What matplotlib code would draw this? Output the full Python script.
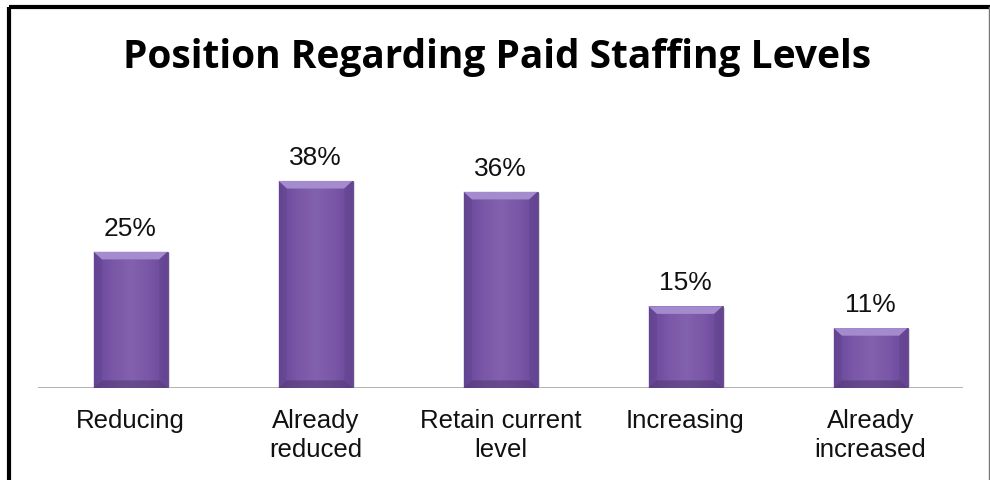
import matplotlib
matplotlib.use("Agg")
import matplotlib.pyplot as plt
import numpy as np
from matplotlib.patches import Polygon
from matplotlib.colors import LinearSegmentedColormap

categories = ["Reducing", "Already\nreduced", "Retain current\nlevel", "Increasing", "Already\nincreased"]
values = [25, 38, 36, 15, 11]
value_labels = ["25%", "38%", "36%", "15%", "11%"]

W, H = 990, 481
fig = plt.figure(figsize=(W / 100, H / 100), dpi=100)

# outer frame: heavy black top/left, thin grey right
frame = fig.add_axes([0, 0, 1, 1])
frame.set_xlim(0, W)
frame.set_ylim(H, 0)
frame.axis("off")
frame.plot([9, 990], [8, 8], color="black", lw=3, solid_capstyle="butt")
frame.plot([9, 9], [8, H], color="black", lw=3, solid_capstyle="butt")
frame.plot([988.5, 988.5], [8, H], color="#777777", lw=1)

fig.text(497 / W, 1 - 68 / H, "Position Regarding Paid Staffing Levels",
         ha="center", va="baseline", fontsize=28, fontweight="bold",
         family=["Open Sans", "DejaVu Sans"])

# plot area: baseline at y=389, 185 px per category
left, right, base = 38, 963, 389
ymax = 45
px_per = 5.45
top = base - ymax * px_per
ax = fig.add_axes([left / W, 1 - base / H, (right - left) / W, (base - top) / H])
ax.set_xlim(-0.5, len(values) - 0.5)
ax.set_ylim(0, ymax)
ax.axis("off")
ax.axhline(0, color="#a6a6a6", lw=1.2, zorder=1)

purple = LinearSegmentedColormap.from_list(
    "bar", ["#67469a", "#7a57a7", "#8261ae", "#7a57a7", "#67469a"])
grad = np.linspace(0, 1, 64).reshape(1, -1)
width = 0.4
bevel_x = 0.045
bevel_y = 1.4
label_font = ["Liberation Sans", "DejaVu Sans"]

for i, v in enumerate(values):
    x0, x1 = i - width / 2, i + width / 2
    # soft shadow
    ax.bar(i + 0.008, v, width=width + 0.012, bottom=-0.25, color="#c4c4c4",
           alpha=0.6, zorder=2, lw=0)
    bar = ax.bar(i, v, width=width, color="#7a57a7", lw=0.6,
                 edgecolor="#5e4286", zorder=3)[0]
    im = ax.imshow(grad, cmap=purple, extent=[x0, x1, 0, v], aspect="auto",
                   zorder=3.5)
    im.set_clip_path(bar)
    # bevel facets
    ax.add_patch(Polygon([[x0, v], [x1, v], [x1 - bevel_x, v - bevel_y],
                          [x0 + bevel_x, v - bevel_y]],
                         closed=True, color="#a48bce", lw=0, zorder=4))
    ax.add_patch(Polygon([[x0, v], [x0 + bevel_x, v - bevel_y],
                          [x0 + bevel_x, bevel_y], [x0, 0]],
                         closed=True, color="#5e4286", lw=0, zorder=4, alpha=0.35))
    ax.add_patch(Polygon([[x1, v], [x1 - bevel_x, v - bevel_y],
                          [x1 - bevel_x, bevel_y], [x1, 0]],
                         closed=True, color="#5e4286", lw=0, zorder=4, alpha=0.35))
    ax.add_patch(Polygon([[x0, 0], [x1, 0], [x1 - bevel_x, bevel_y],
                          [x0 + bevel_x, bevel_y]],
                         closed=True, color="#4f356f", lw=0, zorder=4, alpha=0.5))
    ax.text(i, v + 3.1, value_labels[i], ha="center", va="baseline",
            fontsize=19, family=label_font, color="#111111")
    ax.text(i, -3.7, categories[i], ha="center", va="top", fontsize=18.5,
            family=label_font, color="#111111", linespacing=1.25)

fig.savefig("out.png", dpi=100)
